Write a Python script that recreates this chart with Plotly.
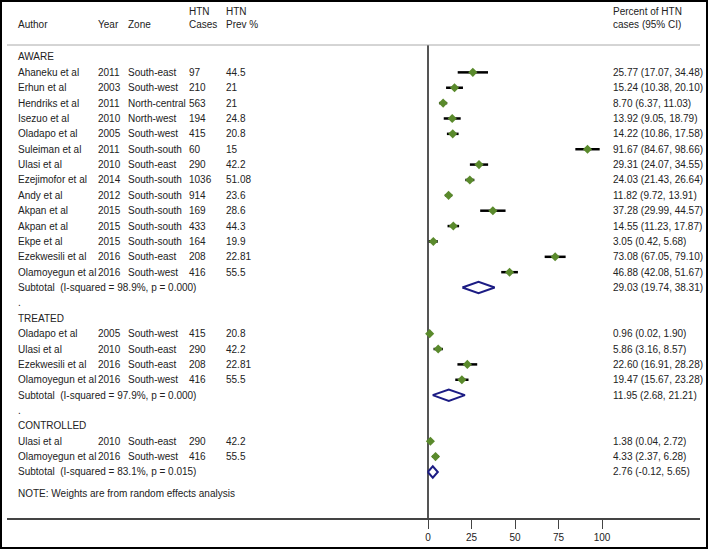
import plotly.graph_objects as go

# ---------------- data ----------------
aware_author = ["Ahaneku et al", "Erhun et al", "Hendriks et al", "Isezuo et al", "Oladapo et al",
                "Suleiman et al", "Ulasi et al", "Ezejimofor et al", "Andy et al", "Akpan et al",
                "Akpan et al", "Ekpe et al", "Ezekwesili et al", "Olamoyegun et al"]
aware_year = ["2011", "2003", "2011", "2010", "2005", "2011", "2010", "2014", "2012", "2015", "2015", "2015", "2016", "2016"]
aware_zone = ["South-east", "South-west", "North-central", "North-west", "South-west", "South-south",
              "South-east", "South-south", "South-south", "South-south", "South-south", "South-south",
              "South-east", "South-west"]
aware_cases = ["97", "210", "563", "194", "415", "60", "290", "1036", "914", "169", "433", "164", "208", "416"]
aware_prev = ["44.5", "21", "21", "24.8", "20.8", "15", "42.2", "51.08", "23.6", "28.6", "44.3", "19.9", "22.81", "55.5"]
aware_es = [25.77, 15.24, 8.70, 13.92, 14.22, 91.67, 29.31, 24.03, 11.82, 37.28, 14.55, 3.05, 73.08, 46.88]
aware_lo = [17.07, 10.38, 6.37, 9.05, 10.86, 84.67, 24.07, 21.43, 9.72, 29.99, 11.23, 0.42, 67.05, 42.08]
aware_hi = [34.48, 20.10, 11.03, 18.79, 17.58, 98.66, 34.55, 26.64, 13.91, 44.57, 17.87, 5.68, 79.10, 51.67]
aware_sub = (29.03, 19.74, 38.31)
aware_i2 = "98.9%"
aware_p = "0.000"

treated_author = ["Oladapo et al", "Ulasi et al", "Ezekwesili et al", "Olamoyegun et al"]
treated_year = ["2005", "2010", "2016", "2016"]
treated_zone = ["South-west", "South-east", "South-east", "South-west"]
treated_cases = ["415", "290", "208", "416"]
treated_prev = ["20.8", "42.2", "22.81", "55.5"]
treated_es = [0.96, 5.86, 22.60, 19.47]
treated_lo = [0.02, 3.16, 16.91, 15.67]
treated_hi = [1.90, 8.57, 28.28, 23.28]
treated_sub = (11.95, 2.68, 21.21)
treated_i2 = "97.9%"
treated_p = "0.000"

controlled_author = ["Ulasi et al", "Olamoyegun et al"]
controlled_year = ["2010", "2016"]
controlled_zone = ["South-east", "South-west"]
controlled_cases = ["290", "416"]
controlled_prev = ["42.2", "55.5"]
controlled_es = [1.38, 4.33]
controlled_lo = [0.04, 2.37]
controlled_hi = [2.72, 6.28]
controlled_sub = (2.76, -0.12, 5.65)
controlled_i2 = "83.1%"
controlled_p = "0.015"

x_ticks = [0, 25, 50, 75, 100]

groups = [
    ("AWARE", aware_author, aware_year, aware_zone, aware_cases, aware_prev, aware_es, aware_lo, aware_hi, aware_sub, aware_i2, aware_p),
    ("TREATED", treated_author, treated_year, treated_zone, treated_cases, treated_prev, treated_es, treated_lo, treated_hi, treated_sub, treated_i2, treated_p),
    ("CONTROLLED", controlled_author, controlled_year, controlled_zone, controlled_cases, controlled_prev, controlled_es, controlled_lo, controlled_hi, controlled_sub, controlled_i2, controlled_p),
]

# ---------------- layout constants ----------------
W, H = 709, 550
FONT = "Liberation Sans, Arial, sans-serif"
FS = 10
TXT = "#222222"
GREEN = "#5a8a2c"
NAVY = "#1c1c84"

col_author, col_year, col_zone, col_cases, col_prev, col_right = 17, 97, 127, 188, 225, 612

def px(xp):
    return xp / W

def py(yp):
    return 1 - yp / H

ann = []

def add_text(text, xpix, yval, yref="y"):
    ann.append(dict(text=text, x=px(xpix), xref="paper", y=yval, yref=yref,
                    xanchor="left", yanchor="middle", showarrow=False, borderpad=0,
                    font=dict(family=FONT, size=FS, color=TXT)))

def fmt(e, l, h):
    return f"{e:.2f} ({l:.2f}, {h:.2f})"

ci_x, ci_y, pt_x, pt_y = [], [], [], []
dia_x, dia_y = [], []
row = 0
for gi, (gname, au, yr, zn, cs, pv, es, lo, hi, sub, i2, p) in enumerate(groups):
    if gi > 0:
        add_text(".", col_author, row)
        row += 1
    add_text(gname, col_author, row)
    row += 1
    for k in range(len(au)):
        add_text(au[k], col_author, row)
        add_text(yr[k], col_year, row)
        add_text(zn[k], col_zone, row)
        add_text(cs[k], col_cases, row)
        add_text(pv[k], col_prev, row)
        add_text(fmt(es[k], lo[k], hi[k]), col_right, row)
        ci_x += [lo[k], hi[k], None]
        ci_y += [row, row, None]
        pt_x.append(es[k])
        pt_y.append(row)
        row += 1
    add_text(f"Subtotal\u00a0 (I-squared = {i2}, p = {p})", col_author, row)
    add_text(fmt(*sub), col_right, row)
    e, l, h = sub
    dh = 0.37
    dia_x += [l, e, h, e, l, None]
    dia_y += [row, row - dh, row, row + dh, row, None]
    row += 1

add_text("NOTE: Weights are from random effects analysis", col_author, row + 0.4)

# headers (paper coords)
add_text("HTN", col_cases, py(11), "paper")
add_text("HTN", col_prev, py(11), "paper")
add_text("Author", col_author, py(25), "paper")
add_text("Year", col_year, py(25), "paper")
add_text("Zone", col_zone, py(25), "paper")
add_text("Cases", col_cases, py(25), "paper")
add_text("Prev %", col_prev, py(25), "paper")
add_text("Percent of HTN", col_right, py(11), "paper")
add_text("cases (95% CI)", col_right, py(25), "paper")

fig = go.Figure()
fig.add_trace(go.Scatter(x=ci_x, y=ci_y, mode="lines", line=dict(color="black", width=2.5),
                         hoverinfo="skip", showlegend=False))
fig.add_trace(go.Scatter(x=pt_x, y=pt_y, mode="markers",
                         marker=dict(symbol="diamond", size=7, color=GREEN), showlegend=False))
fig.add_trace(go.Scatter(x=dia_x, y=dia_y, mode="lines", line=dict(color=NAVY, width=2),
                         showlegend=False))

# pixel mapping: value 0 -> 428px, 100 -> 602px
scale = 1.74
x0pix, x1pix = 7, 700
xr = [(x0pix - 428) / scale, (x1pix - 428) / scale]
ytop, ybot = 45, 518
row_pix0, row_step = 57, 15.37
yr_range = [(ybot - row_pix0) / row_step, (ytop - row_pix0) / row_step]

fig.update_layout(
    width=W, height=H, margin=dict(l=0, r=0, t=0, b=0),
    paper_bgcolor="white", plot_bgcolor="white",
    font=dict(family=FONT, size=FS, color=TXT),
    xaxis=dict(domain=[px(x0pix), px(x1pix)], range=xr, tickvals=x_ticks,
               showgrid=False, zeroline=True, zerolinecolor="#555555", zerolinewidth=1.5,
               showline=True, linecolor="#444444", linewidth=1.5,
               ticks="outside", ticklen=9, tickcolor="#444444", tickwidth=1,
               tickfont=dict(family=FONT, size=FS, color=TXT)),
    yaxis=dict(domain=[py(ybot), py(ytop)], range=yr_range, showgrid=False, zeroline=False,
               showticklabels=False, showline=False, ticks=""),
    annotations=ann,
    shapes=[
        dict(type="line", xref="paper", yref="paper", x0=px(x0pix), x1=px(x1pix),
             y0=py(ytop), y1=py(ytop), line=dict(color="#aaaaaa", width=1)),
        dict(type="rect", xref="paper", yref="paper", x0=px(1), x1=px(707),
             y0=py(548), y1=py(1), line=dict(color="black", width=2)),
    ],
)

fig.write_html("out.html", config={"displayModeBar": False},
               post_script="document.body.style.margin='0';document.body.style.overflow='hidden';")
